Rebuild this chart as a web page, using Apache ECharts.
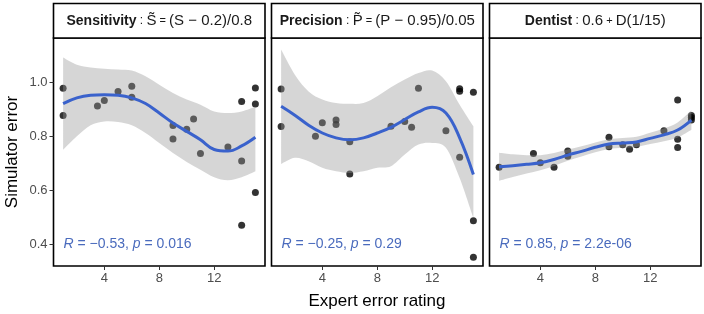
<!DOCTYPE html>
<html>
<head>
<meta charset="utf-8">
<script src="https://cdn.jsdelivr.net/npm/echarts@6/dist/echarts.min.js"></script>
<style>html,body{margin:0;padding:0;background:#fff}#c{width:704px;height:314px}</style>
</head>
<body>
<div id="c"></div>
<script>
// ---- data ----
const xTicks = [4, 8, 12];
const yTicks = [0.4, 0.6, 0.8, 1.0];
const fitX = [1, 2, 3, 4, 5, 6, 7, 8, 9, 10, 11, 12, 13, 14, 15];

const sensX = [1, 1, 3.5, 4, 5, 6, 6, 9, 9, 10, 10.5, 11, 13, 14, 14, 15, 15, 15, 14];
const sensY = [0.979, 0.878, 0.913, 0.933, 0.967, 0.986, 0.945, 0.841, 0.791, 0.827, 0.865, 0.737, 0.761, 0.930, 0.709, 0.980, 0.920, 0.593, 0.471];
const sensFit = [0.922, 0.943, 0.953, 0.955, 0.953, 0.943, 0.922, 0.887, 0.850, 0.819, 0.788, 0.752, 0.746, 0.765, 0.797];
const sensUp = [1.093, 1.066, 1.056, 1.051, 1.048, 1.044, 1.023, 0.992, 0.961, 0.937, 0.918, 0.893, 0.887, 0.893, 0.910];
const sensLo = [0.751, 0.801, 0.842, 0.856, 0.854, 0.842, 0.813, 0.776, 0.739, 0.706, 0.677, 0.649, 0.638, 0.649, 0.671];

const precX = [1, 1, 3.5, 4, 5, 5, 6, 6, 9, 10, 10.5, 11, 13, 14, 14, 15, 14, 15, 15];
const precY = [0.976, 0.837, 0.801, 0.851, 0.861, 0.844, 0.781, 0.661, 0.838, 0.856, 0.834, 0.979, 0.821, 0.977, 0.968, 0.964, 0.723, 0.488, 0.353];
const precFit = [0.912, 0.879, 0.842, 0.813, 0.795, 0.788, 0.795, 0.813, 0.834, 0.863, 0.891, 0.908, 0.887, 0.795, 0.659];
const precUp = [1.122, 1.029, 0.967, 0.937, 0.924, 0.921, 0.924, 0.949, 0.982, 1.011, 1.035, 1.044, 1.005, 0.918, 0.838];
const precLo = [0.698, 0.721, 0.708, 0.684, 0.671, 0.665, 0.671, 0.684, 0.690, 0.733, 0.770, 0.776, 0.758, 0.646, 0.498];

const dentX = [1, 3.5, 4, 5, 6, 6, 9, 9, 10, 10.5, 11, 13, 14, 14, 14, 15, 15, 15];
const dentY = [0.686, 0.737, 0.703, 0.686, 0.727, 0.746, 0.762, 0.797, 0.769, 0.753, 0.769, 0.821, 0.759, 0.790, 0.935, 0.861, 0.870, 0.878];
const dentFit = [0.688, 0.692, 0.697, 0.703, 0.715, 0.731, 0.745, 0.760, 0.772, 0.776, 0.780, 0.793, 0.806, 0.824, 0.861];
const dentUp = [0.740, 0.734, 0.731, 0.731, 0.739, 0.752, 0.764, 0.778, 0.790, 0.794, 0.799, 0.814, 0.830, 0.852, 0.897];
const dentLo = [0.636, 0.650, 0.663, 0.675, 0.691, 0.710, 0.726, 0.742, 0.754, 0.758, 0.761, 0.772, 0.782, 0.796, 0.825];

const stripLabels = [
  '{b|Sensitivity}{n| : }{f|S\u0303}{e| = }{f|(S \u2212 0.2)/0.8}',
  '{b|Precision}{n| : }{f|P\u0303}{e| = }{f|(P \u2212 0.95)/0.05}',
  '{b|Dentist}{n| : }{f|0.6}{e| + }{f|D(1/15)}'
];
const corLabels = [
  ['\u2212', '0.53', '0.016'],
  ['\u2212', '0.25', '0.29'],
  ['', '0.85', '2.2e-06']
];
const xTitle = 'Expert error rating';
const yTitle = 'Simulator error';

// ---- layout ----
const panelLeft = [53.5, 271.5, 489.5];
const panelW = 211.5, panelTop = 38, panelH = 228;
const FONT = 'Liberation Sans, Arial, Helvetica, sans-serif';
const lineColor = '#3a62cc';
const textBlue = '#4a6bbd';

const panels = [
  [sensX, sensY, sensFit, sensUp, sensLo],
  [precX, precY, precFit, precUp, precLo],
  [dentX, dentY, dentFit, dentUp, dentLo]
];

// Catmull-Rom spline through pixel points -> SVG path segment (no initial M)
function splineSeg(pts) {
  let d = '';
  for (let k = 0; k < pts.length - 1; k++) {
    const p0 = pts[Math.max(k - 1, 0)], p1 = pts[k], p2 = pts[k + 1], p3 = pts[Math.min(k + 2, pts.length - 1)];
    const c1x = p1[0] + (p2[0] - p0[0]) / 6, c1y = p1[1] + (p2[1] - p0[1]) / 6;
    const c2x = p2[0] - (p3[0] - p1[0]) / 6, c2y = p2[1] - (p3[1] - p1[1]) / 6;
    d += ' C' + c1x + ' ' + c1y + ' ' + c2x + ' ' + c2y + ' ' + p2[0] + ' ' + p2[1];
  }
  return d;
}

const grids = [], xAxes = [], yAxes = [], series = [], graphics = [];
panels.forEach((p, i) => {
  const [px, py, fit, up, lo] = p;
  grids.push({left: panelLeft[i], top: panelTop, width: panelW, height: panelH,
    show: true, borderColor: '#000', borderWidth: 1.6, backgroundColor: 'transparent', containLabel: false});
  xAxes.push({type: 'value', gridIndex: i, min: 0.3, max: 15.7,
    axisLine: {show: false}, splitLine: {show: false},
    axisTick: {show: true, length: 4, lineStyle: {color: '#333', width: 1}, customValues: xTicks},
    axisLabel: {show: true, customValues: xTicks, color: '#4d4d4d', fontSize: 13, fontFamily: FONT, margin: 6}});
  yAxes.push({type: 'value', gridIndex: i, min: 0.3204, max: 1.1648,
    axisLine: {show: false}, splitLine: {show: false},
    axisTick: {show: i === 0, length: 4, lineStyle: {color: '#333', width: 1}, customValues: yTicks},
    axisLabel: {show: i === 0, customValues: yTicks, color: '#4d4d4d', fontSize: 13, fontFamily: FONT, margin: 6,
      formatter: v => v.toFixed(1)}});
  series.push({type: 'scatter', xAxisIndex: i, yAxisIndex: i, z: 1, symbolSize: 7,
    itemStyle: {color: '#000'}, silent: true,
    data: px.map((x, k) => [x, py[k]])});
  // confidence ribbon
  series.push({type: 'custom', xAxisIndex: i, yAxisIndex: i, z: 2, silent: true,
    data: fitX.map((x, k) => [x, lo[k], up[k]]),
    encode: {x: 0, y: [1, 2]},
    renderItem: (params, api) => {
      if (params.dataIndex !== 0) return null;
      const upPts = fitX.map((x, k) => api.coord([x, up[k]]));
      const loPts = fitX.map((x, k) => api.coord([x, lo[k]])).reverse();
      const d = 'M' + upPts[0][0] + ' ' + upPts[0][1] + splineSeg(upPts) +
        ' L' + loPts[0][0] + ' ' + loPts[0][1] + splineSeg(loPts) + ' Z';
      return {type: 'path', shape: {pathData: d},
        style: {fill: 'rgba(153,153,153,0.4)', stroke: null}};
    }});
  series.push({type: 'line', xAxisIndex: i, yAxisIndex: i, z: 3, smooth: 0.4,
    symbol: 'none', lineStyle: {width: 3, color: lineColor}, silent: true,
    data: fitX.map((x, k) => [x, fit[k]])});

  // strip
  graphics.push({type: 'rect', shape: {x: panelLeft[i], y: 3.5, width: panelW, height: 34.5},
    style: {fill: '#fff', stroke: '#000', lineWidth: 1.6}, z: 10});
  graphics.push({type: 'text', x: panelLeft[i] + panelW / 2, y: 21, z: 11,
    style: {text: stripLabels[i], align: 'center', verticalAlign: 'middle', fill: '#1a1a1a',
      rich: {
        b: {fontFamily: FONT, fontWeight: 'bold', fontSize: 14, fill: '#1a1a1a'},
        n: {fontFamily: FONT, fontSize: 12, fill: '#1a1a1a'},
        e: {fontFamily: FONT, fontSize: 11, fill: '#1a1a1a'},
        f: {fontFamily: FONT, fontSize: 15, fill: '#1a1a1a'}
      }}});
  const c = corLabels[i];
  graphics.push({type: 'text', x: panelLeft[i] + 10, y: 244, z: 11,
    style: {text: '{i|R}{r| = ' + c[0] + c[1] + ', }{i|p}{r| = ' + c[2] + '}',
      align: 'left', verticalAlign: 'middle',
      rich: {
        i: {fontFamily: FONT, fontStyle: 'italic', fontSize: 14, fill: textBlue},
        r: {fontFamily: FONT, fontSize: 14, fill: textBlue}
      }}});
});

graphics.push({type: 'text', x: 377, y: 301, style: {text: xTitle, align: 'center', verticalAlign: 'middle',
  fontFamily: FONT, fontSize: 17, fill: '#000'}});
graphics.push({type: 'text', x: 12, y: 152, rotation: Math.PI / 2,
  style: {text: yTitle, align: 'center', verticalAlign: 'middle', fontFamily: FONT, fontSize: 17, fill: '#000'}});

const chart = echarts.init(document.getElementById('c'), null, {renderer: 'canvas'});
chart.setOption({
  animation: false,
  backgroundColor: '#fff',
  grid: grids, xAxis: xAxes, yAxis: yAxes, series: series,
  graphic: graphics
});
</script>
</body>
</html>
